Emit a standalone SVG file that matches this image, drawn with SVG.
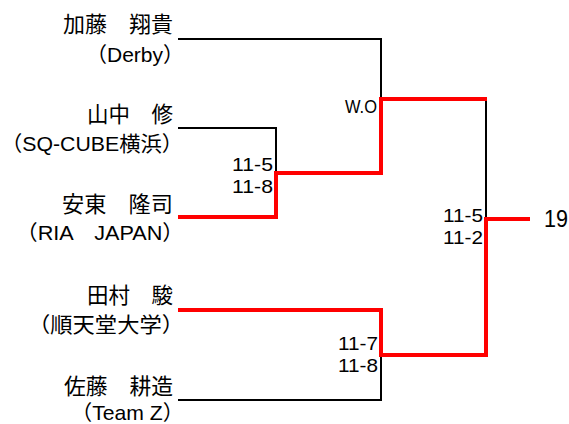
<svg xmlns="http://www.w3.org/2000/svg" width="569" height="424" viewBox="0 0 569 424">
<style>
.name{font-family:"Noto Sans CJK JP","Noto Sans",sans-serif;font-size:22px;fill:#000;text-anchor:end}
.aff{font-family:"Liberation Sans","Noto Sans CJK JP",sans-serif;font-size:21px;fill:#000;text-anchor:end}
.score{font-family:"Liberation Sans","Noto Sans",sans-serif;font-size:19px;fill:#000;text-anchor:end}
.res{font-family:"Liberation Sans","Noto Sans",sans-serif;font-size:23px;fill:#000}
.lose{fill:none;stroke:#000;stroke-width:2}
.win{fill:none;stroke:#ff0000;stroke-width:4}
</style>
<rect width="569" height="424" fill="#fff"/>
<g id="connectors">
<polyline class="lose" points="178,39 381,39 381,99"/>
<polyline class="lose" points="178,128 276,128 276,173"/>
<polyline class="lose" points="486,99 486,219"/>
<polyline class="lose" points="178,400 381,400 381,355"/>
<polyline class="win" points="178,217 276,217 276,173 381,173 381,99 487,99"/>
<polyline class="win" points="178,310 381,310 381,355 486,355 486,219 530,219"/>
</g>
<g id="p1"><text class="name" x="173" y="32" textLength="110" lengthAdjust="spacingAndGlyphs">加藤　翔貴</text><text class="aff" x="184" y="62" textLength="98" lengthAdjust="spacingAndGlyphs">（Derby）</text></g>
<g id="p2"><text class="name" x="173" y="122" textLength="86" lengthAdjust="spacingAndGlyphs">山中　修</text><text class="aff" x="183" y="151" textLength="182" lengthAdjust="spacingAndGlyphs">（SQ-CUBE横浜）</text></g>
<g id="p3"><text class="name" x="173" y="212" textLength="111" lengthAdjust="spacingAndGlyphs">安東　隆司</text><text class="aff" x="184" y="240" textLength="168" lengthAdjust="spacingAndGlyphs">（RIA　JAPAN）</text></g>
<g id="p4"><text class="name" x="173" y="303" textLength="86" lengthAdjust="spacingAndGlyphs">田村　駿</text><text class="aff" x="184" y="332" textLength="156" lengthAdjust="spacingAndGlyphs">（順天堂大学）</text></g>
<g id="p5"><text class="name" x="173" y="394" textLength="109" lengthAdjust="spacingAndGlyphs">佐藤　耕造</text><text class="aff" x="184" y="420" textLength="113" lengthAdjust="spacingAndGlyphs">（Team Z）</text></g>
<g id="s1"><text class="score" x="377" y="113" font-size="17" textLength="32" lengthAdjust="spacingAndGlyphs">W.O</text></g>
<g id="s2"><text class="score" x="273" y="171" textLength="41" lengthAdjust="spacingAndGlyphs">11-5</text><text class="score" x="273" y="193" textLength="41" lengthAdjust="spacingAndGlyphs">11-8</text></g>
<g id="s3"><text class="score" x="483" y="222" textLength="40" lengthAdjust="spacingAndGlyphs">11-5</text><text class="score" x="483" y="244" textLength="40" lengthAdjust="spacingAndGlyphs">11-2</text></g>
<g id="s4"><text class="score" x="378" y="350" textLength="40" lengthAdjust="spacingAndGlyphs">11-7</text><text class="score" x="378" y="372" textLength="40" lengthAdjust="spacingAndGlyphs">11-8</text></g>
<g id="result"><text class="res" x="544" y="227" textLength="24" lengthAdjust="spacingAndGlyphs">19</text></g>
</svg>
